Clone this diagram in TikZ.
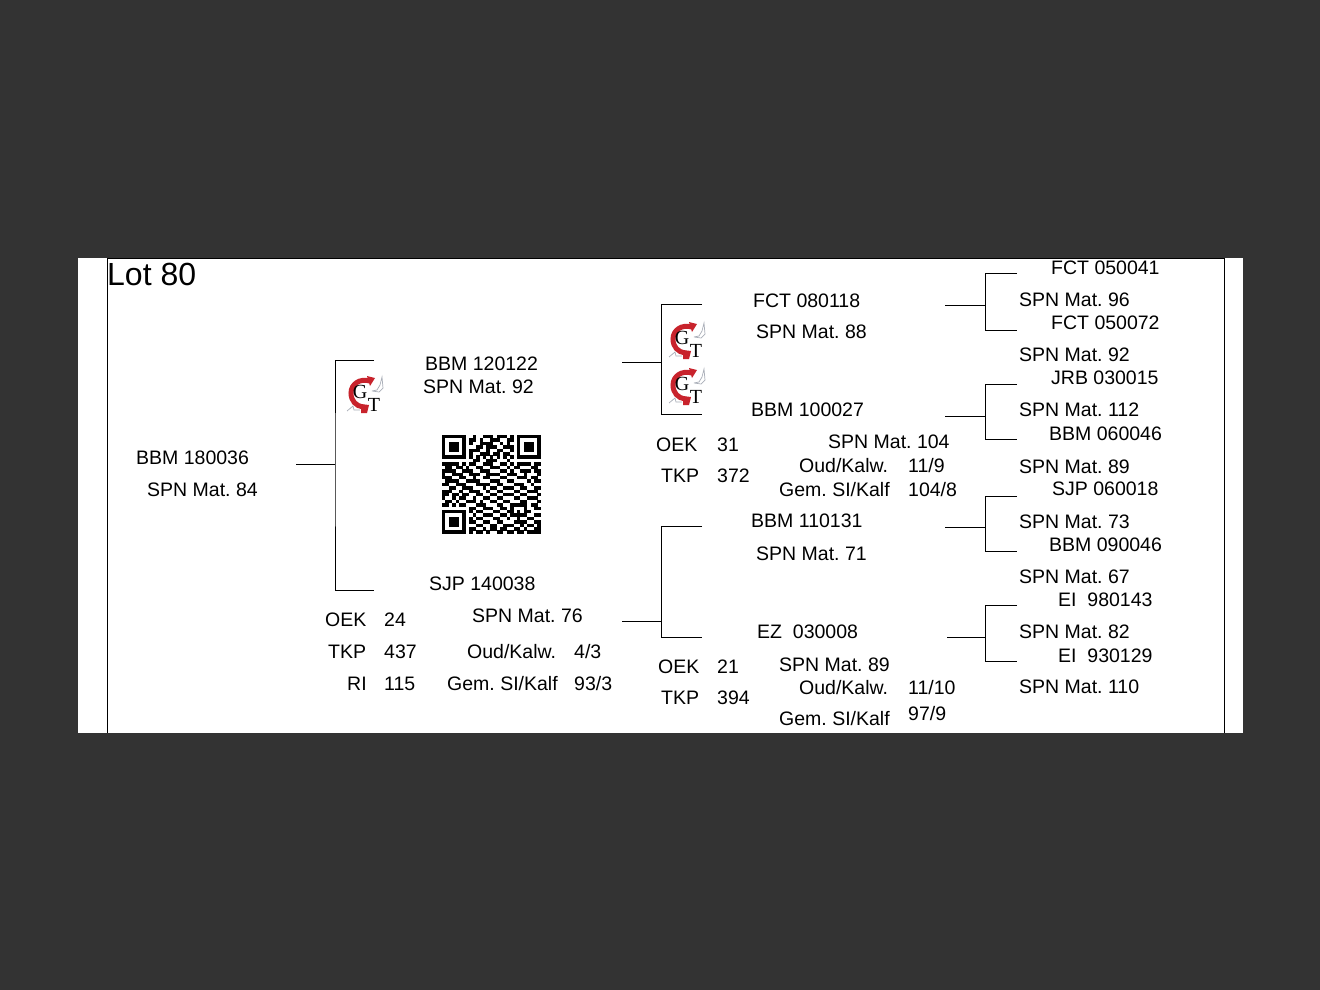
\documentclass[tikz,border=0pt]{standalone}
\usepackage{xcolor}
\usepackage{fontspec}
\setmainfont{Liberation Sans}
\newfontfamily\logofont{Liberation Serif}
\usetikzlibrary{positioning,arrows.meta}
\definecolor{backdrop}{HTML}{333333}
\definecolor{logored}{HTML}{C8232C}
\definecolor{logogrey}{HTML}{A9AEB8}
\frenchspacing

\tikzset{
  pics/gtlogo/.style={code={
    \draw[logored, line width=5pt] (8,-14) .. controls (-2,-17) and (-11,-11) .. (-11,-2) .. controls (-11,6) and (-6,11) .. (1,12);
    \fill[logored] (5,-19) -- (13,-17) -- (8,-9) -- cycle;
    \fill[logored] (-1,9) -- (7,10) -- (5,18) -- (-1,18) -- cycle;
    \draw[logogrey, line width=.7pt] (10,-4) -- (15,-5) -- (18,-10) -- (20,-18) -- (21,-7) -- (17,-3) -- (10,-4);
    \draw[logogrey, line width=.7pt] (-15,16) -- (-9,11) -- (-8,15) -- (-2,15);
    \node[font=\logofont\fontsize{20}{20}\selectfont, inner sep=0pt] (-g) at (-2,-3) {G};
    \node[font=\logofont\fontsize{20}{20}\selectfont, inner sep=0pt] (-t) at (12,10) {T};
  }}
}

\begin{document}
\begin{tikzpicture}[
  x=1pt, y=-1pt,
  lab/.style={anchor=base west, inner sep=0pt, font=\fontsize{19.5}{22}\selectfont},
  title/.style={anchor=base west, inner sep=0pt, font=\fontsize{32}{36}\selectfont},
  link/.style={line width=.9pt, black},
  frame/.style={line width=.9pt, black}
]
  \useasboundingbox (0,0) rectangle (1320,990);
  \fill[backdrop] (0,0) rectangle (1320,990);
  \fill[white] (78,258) rectangle (1243,733);
  \draw[frame] (107,733) -- (107,258.5) -- (1224,258.5) -- (1224,733);

  \node[title] (lot) at (107,285) {Lot 80};

  % first generation
  \node[lab] (bbm180036) at (136,464) {BBM 180036};
  \node[lab] (mat84) at (147,496) {SPN Mat. 84};

  % second generation
  \node[lab] (bbm120122) at (425,370) {BBM 120122};
  \node[lab] (mat92a) at (423,393) {SPN Mat. 92};
  \node[lab] (sjp140038) at (429,590) {SJP 140038};
  \node[lab] (mat76) at (472,622) {SPN Mat. 76};
  \node[lab] (oekA) at (325,626) {OEK};
  \node[lab] (oekAval) at (384,626) {24};
  \node[lab] (tkpA) at (328,658) {TKP};
  \node[lab] (tkpAval) at (384,658) {437};
  \node[lab] (riA) at (347,690) {RI};
  \node[lab] (riAval) at (384,690) {115};
  \node[lab] (oudA) at (467,658) {Oud/Kalw.};
  \node[lab] (oudAval) at (574,658) {4/3};
  \node[lab] (gemA) at (447,690) {Gem. SI/Kalf};
  \node[lab] (gemAval) at (574,690) {93/3};

  % third generation
  \node[lab] (fct080118) at (753,307) {FCT 080118};
  \node[lab] (mat88) at (756,338) {SPN Mat. 88};
  \node[lab] (bbm100027) at (751,416) {BBM 100027};
  \node[lab] (oekB) at (656,451) {OEK};
  \node[lab] (oekBval) at (717,451) {31};
  \node[lab] (tkpB) at (661,482) {TKP};
  \node[lab] (tkpBval) at (717,482) {372};
  \node[lab] (mat104) at (828,448) {SPN Mat. 104};
  \node[lab] (oudB) at (799,472) {Oud/Kalw.};
  \node[lab] (oudBval) at (908,472) {11/9};
  \node[lab] (gemB) at (779,496) {Gem. SI/Kalf};
  \node[lab] (gemBval) at (908,496) {104/8};
  \node[lab] (bbm110131) at (751,527) {BBM 110131};
  \node[lab] (mat71) at (756,560) {SPN Mat. 71};
  \node[lab] (ez030008) at (757,638) {EZ\ \ 030008};
  \node[lab] (oekC) at (658,673) {OEK};
  \node[lab] (oekCval) at (717,673) {21};
  \node[lab] (tkpC) at (661,704) {TKP};
  \node[lab] (tkpCval) at (717,704) {394};
  \node[lab] (mat89a) at (779,671) {SPN Mat. 89};
  \node[lab] (oudC) at (799,694) {Oud/Kalw.};
  \node[lab] (oudCval) at (908,694) {11/10};
  \node[lab] (gemC) at (779,725) {Gem. SI/Kalf};
  \node[lab] (gemCval) at (908,720) {97/9};

  % fourth generation
  \node[lab] (fct050041) at (1051,274) {FCT 050041};
  \node[lab] (mat96) at (1019,306) {SPN Mat. 96};
  \node[lab] (fct050072) at (1051,329) {FCT 050072};
  \node[lab] (mat92b) at (1019,361) {SPN Mat. 92};
  \node[lab] (jrb030015) at (1051,384) {JRB 030015};
  \node[lab] (mat112) at (1019,416) {SPN Mat. 112};
  \node[lab] (bbm060046) at (1049,440) {BBM 060046};
  \node[lab] (mat89b) at (1019,473) {SPN Mat. 89};
  \node[lab] (sjp060018) at (1052,495) {SJP 060018};
  \node[lab] (mat73) at (1019,528) {SPN Mat. 73};
  \node[lab] (bbm090046) at (1049,551) {BBM 090046};
  \node[lab] (mat67) at (1019,583) {SPN Mat. 67};
  \node[lab] (ei980143) at (1058,606) {EI\ \ 980143};
  \node[lab] (mat82) at (1019,638) {SPN Mat. 82};
  \node[lab] (ei930129) at (1058,662) {EI\ \ 930129};
  \node[lab] (mat110) at (1019,693) {SPN Mat. 110};

  % brackets
  \foreach \n/\sx/\sy/\jx/\ty/\by/\ex in {
    root/296/464/335/360/590/374,
    upper/622/362/661.5/304/414/702,
    lower/622/621/661.5/526/637/702,
    rightA/945/305/985/273/330/1017,
    rightB/945/416/985/384/439/1017,
    rightC/945/527/985/496/551/1017,
    rightD/947/637/985/605/661/1017}{
    \coordinate (\n-stub) at (\sx,\sy);
    \coordinate (\n-mid) at (\jx,\sy);
    \coordinate (\n-top) at (\ex,\ty);
    \coordinate (\n-bot) at (\ex,\by);
    \draw[link] (\n-stub) -- (\n-mid);
    \draw[link] (\n-top) -| (\n-mid) |- (\n-bot);
  }

  % logos
  \pic (logoA) at (362,395) {gtlogo};
  \pic (logoB) at (684,341) {gtlogo};
  \pic (logoC) at (684,387) {gtlogo};

  % qr code
  \foreach \fx/\fy in {0/0,22/0,0/22}{
    \draw[line width=3.41pt] (442+\fx*3.41+1.7,435+\fy*3.41+1.7) rectangle ++(20.46,20.46);
    \fill (442+\fx*3.41+6.82,435+\fy*3.41+6.82) rectangle ++(10.23,10.23);
  }
  \foreach \row [count=\j from 0] in {
    {9,12,13,14,16,17,18,20},
    {8,9,11,14,15,16,19,20},
    {8,11,12,13,14,17,19},
    {10,11,13,14,15,18,19,20},
    {8,9,10,13,16,17,20},
    {8,11,12,13,15,16,18,19},
    {8,10,12,14,16,18,20},
    {9,10,13,14,15,19},
    {0,1,2,3,4,6,8,9,12,13,14,17,18,20,22,23,24,25,27,28},
    {1,2,4,5,7,10,11,14,15,16,19,21,22,26,27},
    {0,1,2,3,6,7,8,11,12,13,17,18,20,23,24,25,27,28},
    {0,3,4,5,8,9,10,13,14,15,16,19,20,21,24,28},
    {0,1,2,5,6,9,12,13,17,18,22,23,24,26,27},
    {1,2,3,4,7,8,9,10,14,15,16,19,20,25,27,28},
    {0,1,4,5,6,10,11,12,13,16,17,21,22,23,26},
    {2,3,6,7,8,12,14,15,18,19,20,23,24,27,28},
    {0,1,2,5,8,9,10,13,16,17,21,22,25,26,27},
    {0,1,3,4,6,7,10,11,14,15,18,19,20,23,24,28},
    {0,3,5,6,9,12,13,16,17,21,22,25,26,27},
    {1,2,4,7,8,9,11,14,15,18,19,23,24,28},
    {0,1,3,5,6,10,11,12,16,17,20,21,22,23,24,26,27},
    {8,9,12,13,14,17,18,20,24,27,28},
    {8,10,11,15,16,19,20,22,24,25},
    {9,12,13,14,17,18,20,21,22,23,24,27,28},
    {8,10,11,15,16,19,22,25,26},
    {8,9,12,13,16,17,21,22,23,24,27,28},
    {10,11,14,15,18,19,20,23,25,26,28},
    {8,9,12,14,15,17,18,21,22,24,27,28},
    {8,10,11,13,16,17,19,20,22,23,25,26,27,28}}{
    \foreach \c in \row {
      \fill (442+\c*3.41,435+\j*3.41) rectangle ++(3.46,3.46);
    }
  }
\end{tikzpicture}
\end{document}
